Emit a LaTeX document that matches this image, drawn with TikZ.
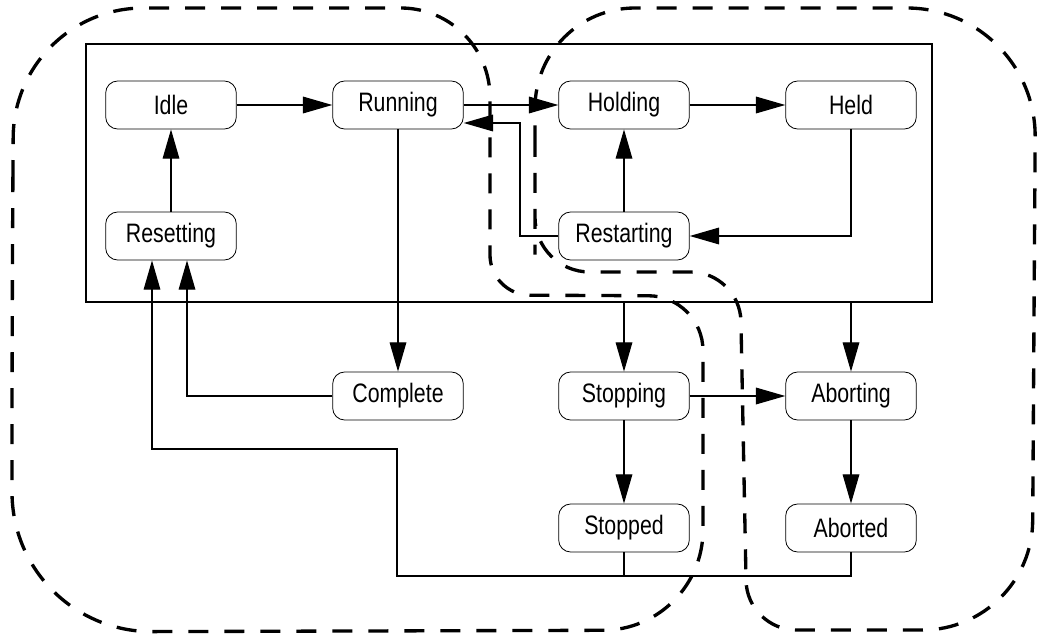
\documentclass[tikz,border=0pt]{standalone}
\usepackage{fontspec}
\setmainfont[FakeStretch=0.8]{Liberation Sans}
\usetikzlibrary{arrows.meta}

\tikzset{
  state/.style={draw, rounded corners=9pt, minimum width=98pt, minimum height=36pt,
    inner sep=0pt, line width=0.6pt, fill=white, font=\fontsize{20}{22}\selectfont},
  trans/.style={line width=0.9pt},
  go/.style={-{Triangle[length=22pt,width=12.5pt]}},
  zone/.style={line width=2.5pt, dash pattern=on 15pt off 12pt},
}

\begin{document}
\begin{tikzpicture}[x=0.75pt, y=-0.75pt]
    \useasboundingbox (0,0) rectangle (1047,635);

    \coordinate (box_nw) at (86,44);
    \coordinate (box_se) at (932,302);
    \draw[line width=1.2pt] (box_nw) rectangle (box_se);

    \node[state] (idle) at (171,105) {Idle};
    \node[state] (running) at (398,105) {Running};
    \node[state] (holding) at (624,105) {Holding};
    \node[state] (held) at (851,105) {Held};

    \node[state] (resetting) at (171,236) {Resetting};
    \node[state] (restarting) at (624,236) {Restarting};

    \node[state] (complete) at (398,396) {Complete};
    \node[state] (stopping) at (624,396) {Stopping};
    \node[state] (aborting) at (851,396) {Aborting};

    \node[state] (stopped) at (624,528) {Stopped};
    \node[state] (aborted) at (851,528) {Aborted};

    \coordinate (back) at (520,123);
    \coordinate (reset_r) at (187,236);
    \coordinate (low) at (397,576);
    \coordinate (turn) at (152,449);

    \draw[trans, go] (idle) -- (running);
    \draw[trans, go] (running) -- (holding);
    \draw[trans, go] (holding) -- (held);
    \draw[trans, go] (resetting) -- (idle);
    \draw[trans, go] (restarting) -- (holding);
    \draw[trans, go] (held) |- (restarting);
    \draw[trans, go] (restarting) -| (back) -- (running.east |- back);
    \draw[trans, go] (running) -- (complete);
    \draw[trans, go] (complete) -| (reset_r |- resetting.south);
    \draw[trans, go] (aborted) |- (low) |- (turn) -- (turn |- resetting.south);
    \draw[trans] (stopped) -- (stopped |- low);
    \draw[trans, go] (stopping |- box_se) -- (stopping);
    \draw[trans, go] (aborting |- box_se) -- (aborting);
    \draw[trans, go] (stopping) -- (aborting);
    \draw[trans, go] (stopping) -- (stopped);
    \draw[trans, go] (aborting) -- (aborted);

    % the two overlapping zones
    \draw[zone] (12,320) [rounded corners=97pt] -- (14,8) [rounded corners=67pt] -- (490,8)
        [rounded corners=30pt] -- (490,295) [rounded corners=41pt] -- (703,296)
        [rounded corners=75pt] -- (703,630) [rounded corners=105pt] -- (12,632) -- cycle;
    \draw[zone] (535,200) [rounded corners=75pt] -- (535,8) [rounded corners=97pt] -- (1036,8)
        [rounded corners=82pt] -- (1032,630) [rounded corners=37pt] -- (747,630)
        [rounded corners=37pt] -- (740,272) [rounded corners=41pt] -- (535,272) -- cycle;
\end{tikzpicture}
\end{document}
